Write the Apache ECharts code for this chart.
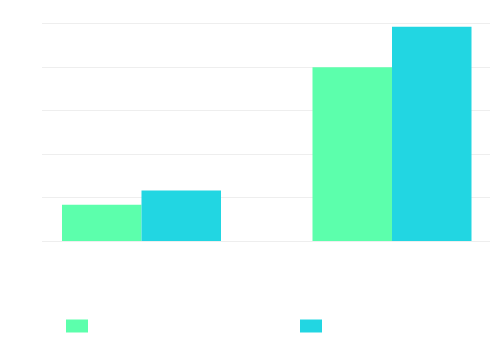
<!DOCTYPE html>
<html>
<head>
<meta charset="utf-8">
<script src="https://cdn.jsdelivr.net/npm/echarts@6/dist/echarts.min.js"></script>
<style>html,body{margin:0;padding:0;background:#fff}#c{width:490px;height:352px}</style>
</head>
<body>
<div id="c"></div>
<script>
var categories = ['A', 'B'];
var seriesNames = ['S1', 'S2'];
var series1 = [0.83, 3.99];
var series2 = [1.16, 4.92];
var yTicks = [0, 1, 2, 3, 4, 5];

function toPairs(values) {
  return categories.map(function (c, i) { return [i, values[i]]; });
}

var chart = echarts.init(document.getElementById('c'), null, {renderer: 'canvas'});
chart.setOption({
  animation: false,
  color: ['#5cffac', '#22d6e2'],
  legend: {
    left: 61, top: 314.5,
    itemWidth: 22, itemHeight: 13, itemGap: 212,
    icon: 'rect',
    formatter: function () { return ''; },
    data: seriesNames
  },
  grid: {left: 42, right: 0, top: 23.3, height: 217.7},
  xAxis: {
    type: 'value', min: -0.3972, max: 1.3912, show: false, splitLine: {show: false}
  },
  yAxis: {
    type: 'value', min: yTicks[0], max: yTicks[yTicks.length - 1], interval: 1,
    axisLine: {show: false}, axisTick: {show: false}, axisLabel: {show: false},
    splitLine: {show: true, lineStyle: {color: '#eeeeee', width: 1}}
  },
  series: [
    {name: seriesNames[0], type: 'bar', data: toPairs(series1), barWidth: 79.5, barGap: '0%'},
    {name: seriesNames[1], type: 'bar', data: toPairs(series2), barWidth: 79.5, barGap: '0%'}
  ]
});
</script>
</body>
</html>
